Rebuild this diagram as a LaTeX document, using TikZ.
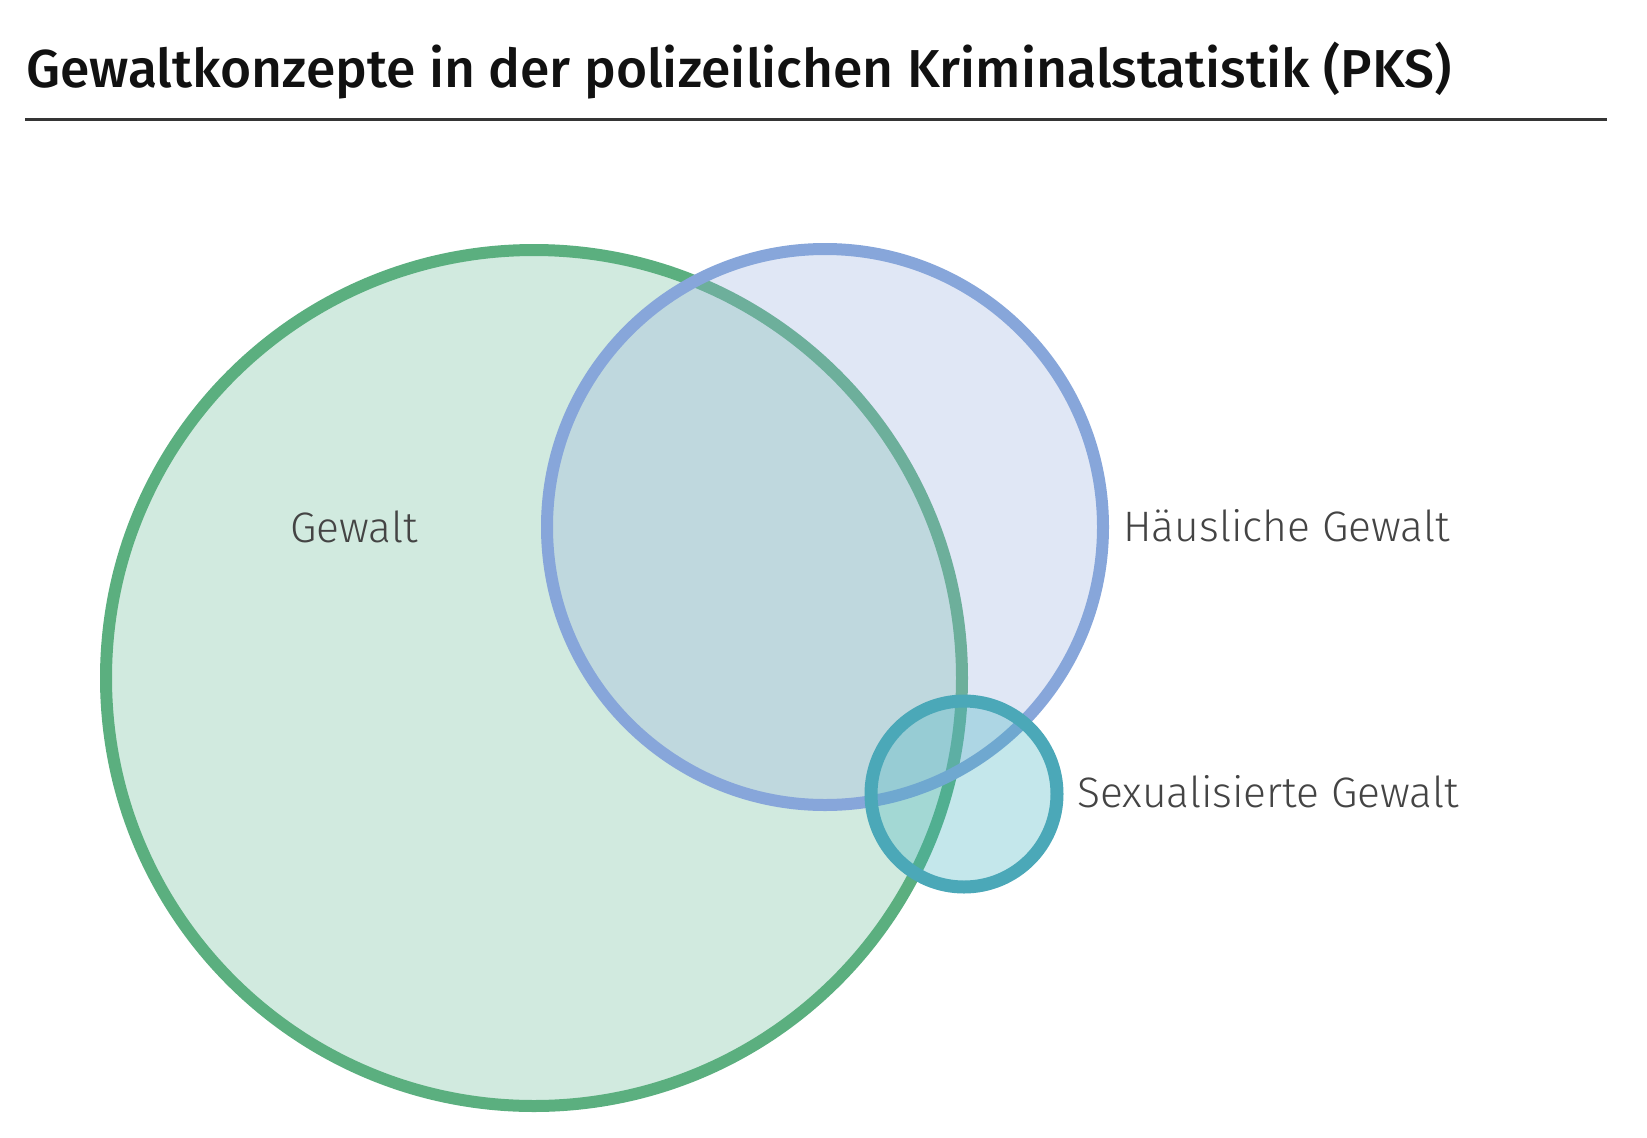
\documentclass[tikz,border=0pt]{standalone}
\usepackage{fontspec}
\setmainfont{Fira Sans}[UprightFont=* Light, BoldFont=* Medium]
\usetikzlibrary{positioning}
\definecolor{gruenrand}{HTML}{5BAF7F}
\definecolor{gruenflaeche}{HTML}{66B994}
\definecolor{blaurand}{HTML}{87A6DA}
\definecolor{blauflaeche}{HTML}{98AFDE}
\definecolor{tuerkisrand}{HTML}{4BA8B8}
\definecolor{tuerkisflaeche}{HTML}{3AAFBC}
\definecolor{beschriftung}{HTML}{444444}
\definecolor{titelfarbe}{HTML}{111111}
\tikzset{
  kreis/.style={line width=12pt, fill opacity=0.3, draw opacity=1},
  etikett/.style={anchor=base west, inner sep=0pt, text=beschriftung,
    font=\fontsize{42.6}{50}\selectfont},
  titel/.style={anchor=base west, inner sep=0pt, text=titelfarbe,
    font=\bfseries\fontsize{53.4}{60}\selectfont},
}
\begin{document}
\begin{tikzpicture}[x=1pt, y=-1pt]
  \useasboundingbox (0,0) rectangle (1647,1138);

  % Titel und Linie
  \node[titel] (ueberschrift) at (26,87) {Gewaltkonzepte in der polizeilichen Kriminalstatistik (PKS)};
  \coordinate (linieA) at (25,119);
  \coordinate (linieB) at (1607,119);
  \draw[line width=3pt, titelfarbe!85] (linieA) -- (linieB);

  % Mittelpunkte
  \coordinate (gewalt) at (534,678);
  \coordinate (haeuslich) at (825,527);
  \coordinate (sexuell) at (964,794);

  % Kreise
  \draw[kreis, draw=gruenrand, fill=gruenflaeche] (gewalt) circle[radius=428pt];
  \draw[kreis, draw=blaurand, fill=blauflaeche] (haeuslich) circle[radius=278pt];
  \draw[kreis, line width=13pt, draw=tuerkisrand, fill=tuerkisflaeche] (sexuell) circle[radius=93pt];

  % Beschriftungen
  \node[etikett] (gewaltText) at (290,542) {Gewalt};
  \node[etikett] (haeuslichText) at (1123,541) {Häusliche Gewalt};
  \node[etikett] (sexuellText) at (1077,807) {Sexualisierte Gewalt};
\end{tikzpicture}
\end{document}
